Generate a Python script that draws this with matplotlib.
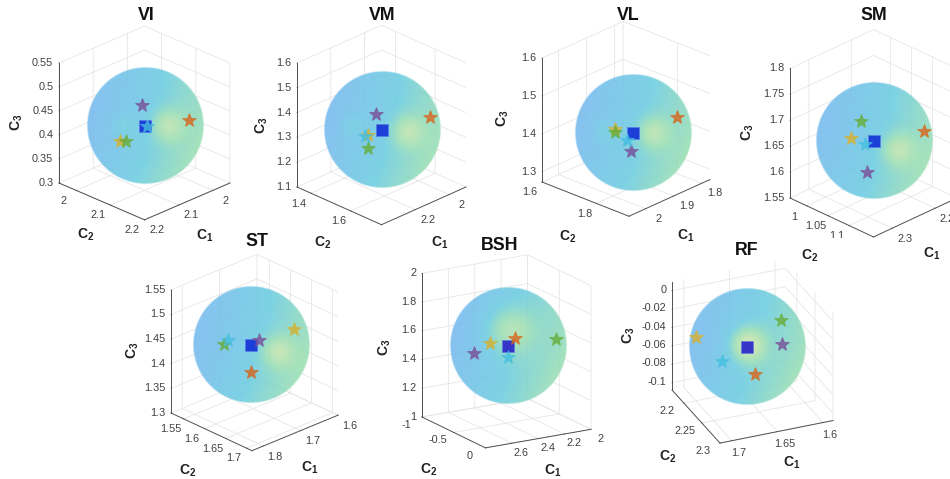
import numpy as np
import matplotlib
matplotlib.use("Agg")
import matplotlib.pyplot as plt
from matplotlib.colors import LinearSegmentedColormap
from matplotlib.patches import Rectangle

W, H = 950, 479

plt.rcParams['font.family'] = ['Liberation Sans', 'DejaVu Sans']
plt.rcParams['mathtext.fontset'] = 'custom'
plt.rcParams['mathtext.bf'] = 'Liberation Sans:bold'
plt.rcParams['mathtext.rm'] = 'Liberation Sans'
plt.rcParams['grid.color'] = '#e6e6e6'
plt.rcParams['grid.linewidth'] = 0.6

# Points per panel: mean (square) first, then the five stars
point_names = ['mean', 'orange', 'yellow', 'purple', 'green', 'cyan']

VI_c1 = [2.0762, 2.0085, 2.1224, 2.0678, 2.1136, 2.0726]
VI_c2 = [2.0776, 2.1377, 2.0507, 2.0596, 2.0595, 2.0808]
VI_c3 = [0.4199, 0.4300, 0.3939, 0.4555, 0.3939, 0.4204]

VM_c1 = [2.1564, 1.9955, 2.2041, 2.1518, 2.2208, 2.2143]
VM_c2 = [1.5490, 1.6566, 1.5190, 1.5164, 1.5333, 1.5126]
VM_c3 = [1.3328, 1.3748, 1.3176, 1.3854, 1.2766, 1.3144]

VL_c1 = [1.9133, 1.8288, 1.9406, 1.9302, 1.9429, 1.9283]
VL_c2 = [1.7856, 1.8582, 1.7465, 1.7946, 1.7488, 1.7790]
VL_c3 = [1.4051, 1.4411, 1.4138, 1.3674, 1.4073, 1.3906]

SM_c1 = [2.2503, 2.1860, 2.2757, 2.2757, 2.2544, 2.2623]
SM_c2 = [1.0641, 1.1180, 1.0346, 1.0725, 1.0374, 1.0549]
SM_c3 = [1.6628, 1.6784, 1.6678, 1.6160, 1.6935, 1.6587]

ST_c1 = [1.7151, 1.7316, 1.6459, 1.7009, 1.7532, 1.7452]
ST_c2 = [1.6090, 1.6222, 1.6483, 1.6154, 1.5779, 1.5803]
ST_c3 = [1.4373, 1.3935, 1.4630, 1.4455, 1.4389, 1.4455]

BSH_c1 = [2.3851, 2.3416, 2.4840, 2.5806, 2.1137, 2.3989]
BSH_c2 = [-0.5027, -0.4922, -0.5853, -0.6318, -0.3199, -0.4834]
BSH_c3 = [1.5319, 1.5828, 1.5510, 1.4912, 1.5803, 1.4638]

RF_c1 = [1.6554, 1.6529, 1.7009, 1.6220, 1.6191, 1.6815]
RF_c2 = [2.2294, 2.2452, 2.2030, 2.2429, 2.2310, 2.2251]
RF_c3 = [-0.0458, -0.0682, -0.0371, -0.0433, -0.0229, -0.0574]

# Ticks
VI_ticks = ([2, 2.1, 2.2], [2, 2.1, 2.2], [0.3, 0.35, 0.4, 0.45, 0.5, 0.55])
VM_ticks = ([2, 2.2], [1.4, 1.6], [1.1, 1.2, 1.3, 1.4, 1.5, 1.6])
VL_ticks = ([1.8, 1.9, 2], [1.6, 1.8], [1.3, 1.4, 1.5, 1.6])
SM_ticks = ([2.2, 2.3], [1, 1.05, 1.1], [1.55, 1.6, 1.65, 1.7, 1.75, 1.8])
ST_ticks = ([1.6, 1.7, 1.8], [1.55, 1.6, 1.65, 1.7], [1.3, 1.35, 1.4, 1.45, 1.5, 1.55])
BSH_ticks = ([2, 2.2, 2.4, 2.6], [-1, -0.5, 0], [1, 1.2, 1.4, 1.6, 1.8, 2])
RF_ticks = ([1.6, 1.65, 1.7], [2.2, 2.25, 2.3], [-0.1, -0.08, -0.06, -0.04, -0.02, 0])

star_cols = {'orange': '#d9641a', 'yellow': '#d9b02c', 'purple': '#7a4d98', 'green': '#66ad38', 'cyan': '#45bfe0'}

# View and layout per panel, the pixel values are image coordinates
panels = [
    dict(name='VI', pts=(VI_c1, VI_c2, VI_c3), ticks=VI_ticks, lims=((1.95, 2.2), (1.95, 2.2), (0.3, 0.55)),
         az=45, el=25.5, k=1.10, left=(59, 183), right=(230, 183), title=(146, 16),
         labs=[(205, 236), (86, 235), (17, 122)], hl=[(.38, 0, .36, .2), (-.38, 0, .2, .14)], sq='#1c3fd8'),
    dict(name='VM', pts=(VM_c1, VM_c2, VM_c3), ticks=VM_ticks, lims=((1.9, 2.4), (1.33, 1.755), (1.1, 1.6)),
         az=45, el=26.5, k=1.16, left=(297, 187), right=(466, 187), title=(382, 15),
         labs=[(440, 243), (323, 243), (262, 125)], hl=[(.43, -.03, .36, .2), (-.5, .05, .2, .14)], sq='#1c3fd8'),
    dict(name='VL', pts=(VL_c1, VL_c2, VL_c3), ticks=VL_ticks, lims=((1.77, 2.059), (1.6, 1.92), (1.273, 1.6)),
         az=43, el=25, k=1.15, left=(542, 182), right=(710, 187), title=(628, 15),
         labs=[(686, 236), (568, 237), (503, 118)], hl=[(.33, 0, .36, .2), (-.5, 0, .2, .14)], sq='#1c3fd8'),
    dict(name='SM', pts=(SM_c1, SM_c2, SM_c3), ticks=SM_ticks, lims=((2.149, 2.344), (.96, 1.158), (1.55, 1.8)),
         az=45, el=27.8, k=1.24, left=(790, 198), right=(957, 198), title=(874, 15),
         labs=[(932, 254), (810, 256), (748, 132)], hl=[(.4, -.15, .36, .2)], sq='#1c3fd8'),
    dict(name='ST', pts=(ST_c1, ST_c2, ST_c3), ticks=ST_ticks, lims=((1.6, 1.83), (1.52, 1.713), (1.3, 1.55)),
         az=46.7, el=26, k=1.16, left=(171, 413), right=(338, 413), title=(257, 242),
         labs=[(310, 468), (188, 471), (133, 350)], hl=[(.45, -.12, .36, .2)], sq='#1c3fd8'),
    dict(name='BSH', pts=(BSH_c1, BSH_c2, BSH_c3), ticks=BSH_ticks, lims=((2, 2.8), (-1, 0), (1, 2)),
         az=59, el=17, k=1.22, left=(422, 417), right=(591, 431), title=(500, 245),
         labs=[(553, 471), (429, 470), (385, 347)], hl=[(0, .25, .42, .3)], sq='#3535c8'),
    dict(name='RF', pts=(RF_c1, RF_c2, RF_c3), ticks=RF_ticks, lims=((1.589, 1.713), (2.167, 2.3), (-.108, .01)),
         az=67, el=28, k=1.0, left=(672, 390), right=(833, 419), title=(747, 250),
         labs=[(792, 463), (668, 457), (629, 335)], hl=[(0, .03, .62, .22)], sq='#3535c8'),
]

sphere_cmap = LinearSegmentedColormap.from_list(
    'sph', [(0, '#86c3f0'), (.35, '#7dd2e4'), (.6, '#a5e2bd'), (.85, '#cfe8b8'), (1, '#e6edb0')])
SPHERE_R = 58
SPHERE_ALPHA = 0.88


def sphere_image(hl):
    # Shaded ball: left to right gradient plus soft light spots
    u, v = np.meshgrid(np.linspace(-1.02, 1.02, 260), np.linspace(-1.02, 1.02, 260))
    val = 0.28 + 0.30*u - 0.03*v + 0.10*np.maximum(-v, 0)
    for hx, hy, amp, s in hl:
        val = val + amp*np.exp(-((u-hx)**2+(v-hy)**2)/(2*s**2))
    rgba = sphere_cmap(np.clip(val, 0, 1))
    rgba[..., :3] = np.clip((rgba[..., :3]-(1-SPHERE_ALPHA))/SPHERE_ALPHA, 0, 1)
    rgba[..., 3] = SPHERE_ALPHA*np.clip((1-np.hypot(u, v))/0.02+0.5, 0, 1)
    return rgba


def to_px(ax, x, y, z):
    v = ax.get_proj() @ np.array([x, y, z, 1.0])
    d = ax.transData.transform((v[0]/v[3], v[1]/v[3]))
    return d[0], H-d[1]


def setup(ax, p):
    ax.set_proj_type('ortho')
    ax.view_init(elev=p['el'], azim=p['az'])
    ax.set_xlim(*p['lims'][0])
    ax.set_ylim(*p['lims'][1])
    ax.set_zlim(*p['lims'][2])
    ax.set_facecolor('none')


def fit(ax, p):
    # Scale and shift the box so its floor corners land where they should
    xl, yl, zl = p['lims']
    aspect = (1, 1, p['k'])
    ax.set_box_aspect(aspect, zoom=1)
    a = to_px(ax, xl[1], yl[0], zl[0])
    b = to_px(ax, xl[0], yl[1], zl[0])
    s = (p['right'][0]-p['left'][0])/(b[0]-a[0])
    ax.set_box_aspect(aspect, zoom=s)
    a = to_px(ax, xl[1], yl[0], zl[0])
    pos = ax.get_position()
    ax.set_position([pos.x0+(p['left'][0]-a[0])/W, pos.y0-(p['left'][1]-a[1])/H, pos.width, pos.height])
    return s


fig = plt.figure(figsize=(W/100, H/100), dpi=100)
rect = [0.3, 0.2, 400/W, 400/H]

for i, p in enumerate(panels):
    c1, c2, c3 = p['pts']
    xt, yt, zt = p['ticks']

    # Box, grid and ticks
    ax = fig.add_axes(rect, projection='3d', zorder=10+3*i)
    setup(ax, p)
    ax.set_xticks(xt, ['%g' % t for t in xt])
    ax.set_yticks(yt, ['%g' % t for t in yt])
    ax.set_zticks(zt, ['%g' % t for t in zt])
    ax.tick_params(labelsize=7.8, colors='#404040', pad=14)
    ax.tick_params(axis='z', pad=-3)
    for lab in ax.get_zticklabels():
        lab.set_horizontalalignment('right')
        lab.set_verticalalignment('center')
    for axis in (ax.xaxis, ax.yaxis, ax.zaxis):
        axis.set_pane_color((1, 1, 1, 0))
        axis.pane.set_edgecolor('#e6e6e6')
        axis.pane.set_linewidth(0.6)
        axis.line.set_color('#505050')
        axis.line.set_linewidth(0.7)
        axis._axinfo['tick']['inward_factor'] = 0.0
        axis._axinfo['tick']['outward_factor'] = 0.03
        axis._axinfo['tick']['linewidth'] = {True: 0.5, False: 0.3}
    # x and y tick labels slide along the floor only
    ax.xaxis._axmask = lambda: (False, True, False)
    ax.yaxis._axmask = lambda: (True, False, False)
    ax.zaxis.set_ticks_position('lower')
    s = fit(ax, p)

    # Sphere around the mean point
    cx, cy = to_px(ax, c1[0], c2[0], c3[0])
    R = SPHERE_R*1.02
    sax = fig.add_axes([(cx-R)/W, 1-(cy+R)/H, 2*R/W, 2*R/H], zorder=11+3*i)
    sax.imshow(sphere_image(p['hl']), origin='lower', interpolation='bilinear')
    sax.set_axis_off()

    # Points, on a second 3d axes with the same view so they sit above the sphere
    tax = fig.add_axes(ax.get_position().bounds, projection='3d', zorder=12+3*i)
    setup(tax, p)
    tax.set_axis_off()
    tax.set_box_aspect((1, 1, p['k']), zoom=s)
    tax.plot(c1[:1], c2[:1], c3[:1], 's', ms=8.4, color=p['sq'], mec='#5a78e8', mew=0.4)
    for j, name in enumerate(point_names[1:], start=1):
        tax.plot(c1[j:j+1], c2[j:j+1], c3[j:j+1], '*', ms=10.5, color=star_cols[name], alpha=0.8, mew=0.5)

    fig.text(p['title'][0]/W, 1-p['title'][1]/H, p['name'], fontsize=12.8, fontweight='bold',
             ha='center', va='center', zorder=100, color='#111111')
    for j, (lx, ly) in enumerate(p['labs']):
        fig.text(lx/W, 1-ly/H, r'$\mathbf{C_%d}$' % (j+1), fontsize=10, ha='center', va='center',
                 rotation=90 if j == 2 else 0, zorder=100, color='#222222')

# The lower half of the SM "1.1" label is cut off in the original figure
fig.add_artist(Rectangle((825/W, 1-250/H), 32/W, 12/H, transform=fig.transFigure,
                         facecolor='white', edgecolor='none', zorder=99))

fig.savefig('out.png', dpi=100)
